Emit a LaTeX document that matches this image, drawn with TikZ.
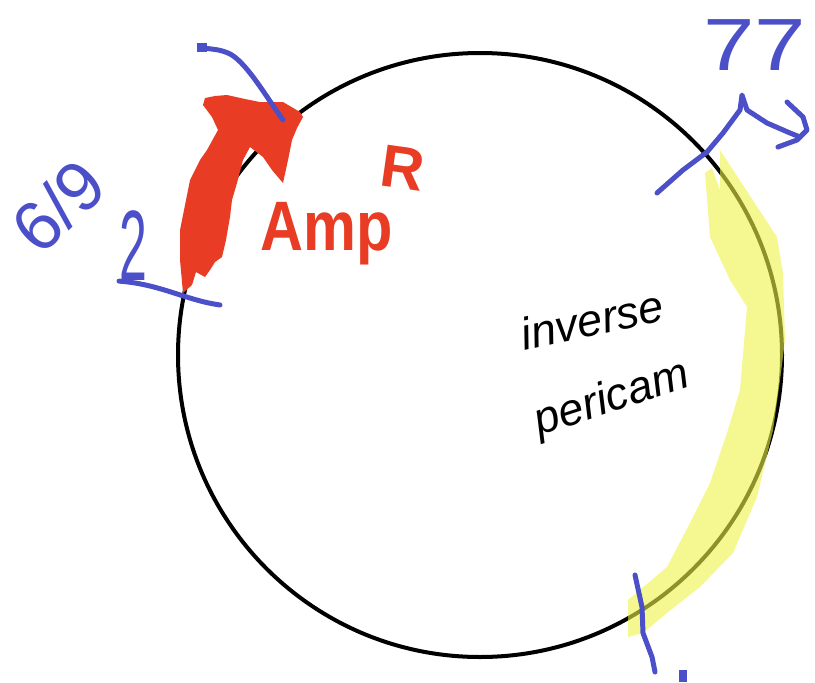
\documentclass[tikz,border=0pt]{standalone}
\usepackage{fontspec}
\setmainfont{Liberation Sans}
\definecolor{penblue}{HTML}{4B4FC8}
\definecolor{penred}{HTML}{E83C24}
\definecolor{hiyel}{RGB}{238,243,72}
\tikzset{
  plasmid/.style={draw=black, line width=4pt},
  bluepen/.style={draw=penblue, line width=5pt, line cap=round, line join=round},
  bluetext/.style={text=penblue, inner sep=0pt},
  redtext/.style={text=penred, inner sep=0pt, font=\bfseries},
  blacktext/.style={text=black, inner sep=0pt, font=\itshape},
}
\begin{document}
\begin{tikzpicture}[x=1pt,y=-1pt]
\useasboundingbox (0,0) rectangle (815,683);
% plasmid circle
\node[circle, minimum size=604pt, inner sep=0pt, plasmid] (ring) at (480,355) {};
% red AmpR arrow
\fill[penred] (183,293) -- (180,260) -- (180,230) -- (186,200) -- (190,180) -- (200,160)
  -- (207,150) -- (218,130) -- (212,117) -- (203,105) -- (205,98) -- (215,96) -- (227,95)
  -- (245,99) -- (260,102) -- (283,102) -- (300,112) -- (303,117) -- (297,128) -- (292,140)
  -- (288,160) -- (283,183) -- (272,170) -- (263,157) -- (250,147) -- (243,160) -- (237,183)
  -- (232,200) -- (230,217) -- (226,240) -- (222,257) -- (215,262) -- (210,270) -- (205,277)
  -- (196,272) -- (192,285) -- cycle;
\node[redtext, anchor=base, font=\bfseries\fontsize{70}{70}\selectfont, xscale=0.85] (amp) at (327,250) {Amp};
\node[redtext, font=\bfseries\fontsize{60}{60}\selectfont, rotate=-8] (ampR) at (403,168) {R};
% yellow highlight
\fill[hiyel, opacity=0.6] (720,150) -- (777,237) -- (783,273) -- (785,340) -- (780,380)
  -- (773,430) -- (757,497) -- (733,553) -- (700,587) -- (667,613) -- (643,633) -- (628,637)
  -- (628,600) -- (667,567) -- (690,523) -- (710,483) -- (727,433) -- (740,390) -- (747,307)
  -- (730,280) -- (710,237) -- (705,173) -- (712,168) -- (720,190) -- cycle;
% inner text
\node[blacktext, font=\itshape\fontsize{45}{45}\selectfont, rotate=12] (inv) at (592,320) {inverse};
\node[blacktext, font=\itshape\fontsize{45}{45}\selectfont, rotate=18] (peri) at (612,400) {pericam};
% blue marks
\coordinate (ampEnd) at (283,120);
\coordinate (ampTip) at (203,48);
\draw[bluepen] (ampEnd) .. controls (265,95) and (245,60) .. (228,53) .. controls (220,50) .. (ampTip);
\fill[penblue] (ampTip) ++(-6,-5) rectangle ++(10,9);
\node[bluetext, font=\fontsize{70}{70}\selectfont, rotate=44] (sixnine) at (58,206) {6/9};
\node[bluetext, font=\fontsize{100}{100}\selectfont, xscale=0.5] (two) at (133,246) {2};
\coordinate (twoEnd) at (220,305);
\draw[bluepen] (two.south west) .. controls (160,284) and (185,300) .. (twoEnd);
\node[bluetext, font=\fontsize{74}{74}\selectfont, xscale=1.25] (seven) at (755,45) {77};
\coordinate (tickA) at (657,193);
\coordinate (tickB) at (742,95);
\coordinate (tickC) at (800,137);
\draw[bluepen] (tickA) -- (683,170) -- (707,152) -- (723,133) -- (740,110) -- (tickB)
  -- (747,110) -- (767,123) -- (790,133) -- (tickC);
\draw[bluepen] (787,102) -- (803,117) -- (807,130) -- (797,140) -- (778,147);
\coordinate (botA) at (635,575);
\coordinate (botB) at (655,672);
\draw[bluepen] (botA) -- (642,607) -- (643,633) -- (652,657) -- (botB);
\fill[penblue] (679,670) rectangle (687,682);
\end{tikzpicture}
\end{document}
